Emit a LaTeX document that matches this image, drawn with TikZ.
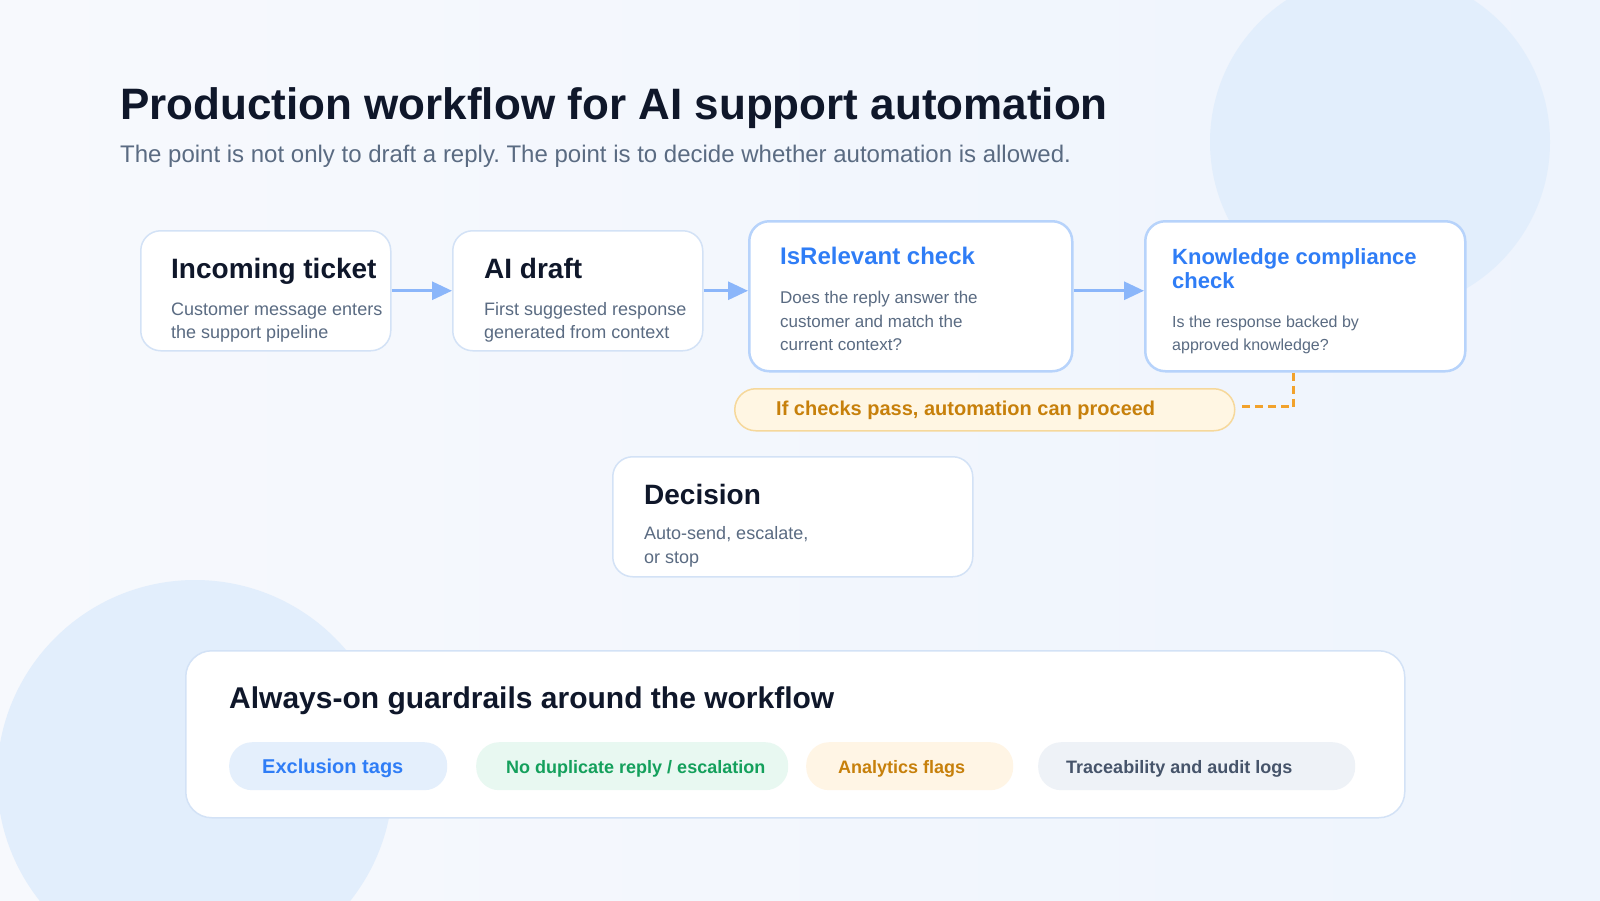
\documentclass[tikz,border=0pt]{standalone}
\usepackage{fontspec}
\setmainfont{Liberation Sans}
\usetikzlibrary{arrows.meta,calc}
\definecolor{bgL}{HTML}{F7F9FD}
\definecolor{bgR}{HTML}{EEF4FD}
\definecolor{circ}{HTML}{E2EEFC}
\definecolor{navy}{HTML}{0F172A}
\definecolor{slate}{HTML}{5A6B82}
\definecolor{blueT}{HTML}{2F7DF6}
\definecolor{arrowC}{HTML}{8BB6FA}
\definecolor{bdLight}{HTML}{D3E2F6}
\definecolor{bdStrong}{HTML}{B7D3FB}
\definecolor{yelFill}{HTML}{FFF6E3}
\definecolor{yelBd}{HTML}{F6D89B}
\definecolor{yelTxt}{HTML}{C7800B}
\definecolor{dashC}{HTML}{F2A22C}
\definecolor{grnFill}{HTML}{E8F8F1}
\definecolor{grnTxt}{HTML}{14A05C}
\definecolor{orFill}{HTML}{FFF5E5}
\definecolor{grFill}{HTML}{EEF2F7}
\definecolor{grTxt}{HTML}{46546A}
\definecolor{blFill}{HTML}{E4EFFC}
\frenchspacing
\tikzset{
  card/.style={draw=bdLight, line width=1.5pt, fill=white, rounded corners=20pt, anchor=north west, inner sep=0pt},
  cardS/.style={card, draw=bdStrong, line width=2.5pt},
  ttl/.style={anchor=base west, inner sep=0pt, text=navy, font=\fontsize{28}{34}\selectfont\bfseries},
  bttl/.style={ttl, text=blueT},
  desc/.style={anchor=base west, inner sep=0pt, text=slate, font=\fontsize{18}{24}\selectfont},
  flow/.style={draw=arrowC, line width=3pt, -{Triangle[length=20pt,width=18pt]}},
  pill/.style={rounded corners=23pt, anchor=north west, inner sep=0pt, minimum height=48pt},
  ptxt/.style={anchor=base west, inner sep=0pt, font=\fontsize{18}{22}\selectfont\bfseries},
}
\begin{document}
\begin{tikzpicture}[x=1pt,y=-1pt]
\useasboundingbox (0,0) rectangle (1600,900);
\begin{scope}
\clip (0,0) rectangle (1600,900);
\shade[left color=bgL, right color=bgR] (0,0) rectangle (1600,900);
\fill[circ] (1380,142) circle (170pt);
\fill[circ] (195,778) circle (198pt);
\end{scope}

% heading
\node[anchor=base west, inner sep=0pt, text=navy, font=\fontsize{44}{50}\selectfont\bfseries] (title) at (120,119) {Production workflow for AI support automation};
\node[anchor=base west, inner sep=0pt, text=slate, font=\fontsize{24}{28}\selectfont] (sub) at (120,162) {The point is not only to draft a reply. The point is to decide whether automation is allowed.};

% cards
\node[card, minimum width=250pt, minimum height=120pt] (b1) at (140,230) {};
\node[ttl] (b1t) at (171,278) {Incoming ticket};
\node[desc] (b1d1) at (171,315) {Customer message enters};
\node[desc] (b1d2) at (171,338) {the support pipeline};

\node[card, minimum width=250pt, minimum height=120pt] (b2) at (452,230) {};
\node[ttl] (b2t) at (484,278) {AI draft};
\node[desc] (b2d1) at (484,315) {First suggested response};
\node[desc] (b2d2) at (484,338) {generated from context};

\node[cardS, minimum width=323pt, minimum height=150pt] (b3) at (748,220) {};
\node[bttl, font=\fontsize{24}{28}\selectfont\bfseries] (b3t) at (780,264) {IsRelevant check};
\node[desc, font=\fontsize{17}{22}\selectfont] (b3d1) at (780,303) {Does the reply answer the};
\node[desc, font=\fontsize{17}{22}\selectfont] (b3d2) at (780,327) {customer and match the};
\node[desc, font=\fontsize{17}{22}\selectfont] (b3d3) at (780,350) {current context?};

\node[cardS, minimum width=320pt, minimum height=150pt] (b4) at (1144,220) {};
\node[bttl, font=\fontsize{22}{26}\selectfont\bfseries] (b4t1) at (1172,264) {Knowledge compliance};
\node[bttl, font=\fontsize{22}{26}\selectfont\bfseries] (b4t2) at (1172,288) {check};
\node[desc, font=\fontsize{16}{20}\selectfont] (b4d1) at (1172,327) {Is the response backed by};
\node[desc, font=\fontsize{16}{20}\selectfont] (b4d2) at (1172,350) {approved knowledge?};

% flow arrows
\draw[flow] (b1.east) -- (b2.west);
\draw[flow] (b2.east) -- (b2.east -| b3.west);
\draw[flow] (b2.east -| b3.east) -- (b2.east -| b4.west);

% pass note
\node[draw=yelBd, line width=1.5pt, fill=yelFill, rounded corners=21pt, anchor=north west, inner sep=0pt, minimum width=500pt, minimum height=42pt] (pass) at (734,388) {};
\node[anchor=base west, inner sep=0pt, text=yelTxt, font=\fontsize{20}{24}\selectfont\bfseries] (passt) at (776,415) {If checks pass, automation can proceed};
\coordinate (dstart) at ($(b4.south)+(-12,0)$);
\draw[dashC, line width=3pt, dash pattern=on 8pt off 5pt] (dstart) |- ($(pass.east)+(4,-3)$);

% decision
\node[card, minimum width=360pt, minimum height=120pt] (dec) at (612,456) {};
\node[ttl] (dect) at (644,504) {Decision};
\node[desc] (decd1) at (644,539) {Auto-send, escalate,};
\node[desc] (decd2) at (644,563) {or stop};

% guardrails panel
\node[card, rounded corners=26pt, minimum width=1219pt, minimum height=167pt] (panel) at (185,650) {};
\node[ttl, font=\fontsize{30}{36}\selectfont\bfseries] (pt) at (229,708) {Always-on guardrails around the workflow};

\node[pill, fill=blFill, minimum width=218pt] (p1) at (229,742) {};
\node[ptxt, text=blueT, font=\fontsize{20}{24}\selectfont\bfseries] (p1t) at (262,773) {Exclusion tags};
\node[pill, fill=grnFill, minimum width=312pt] (p2) at (476,742) {};
\node[ptxt, text=grnTxt] (p2t) at (506,773) {No duplicate reply / escalation};
\node[pill, fill=orFill, minimum width=207pt] (p3) at (806,742) {};
\node[ptxt, text=yelTxt] (p3t) at (838,773) {Analytics flags};
\node[pill, fill=grFill, minimum width=317pt] (p4) at (1038,742) {};
\node[ptxt, text=grTxt] (p4t) at (1066,773) {Traceability and audit logs};
\end{tikzpicture}
\end{document}
